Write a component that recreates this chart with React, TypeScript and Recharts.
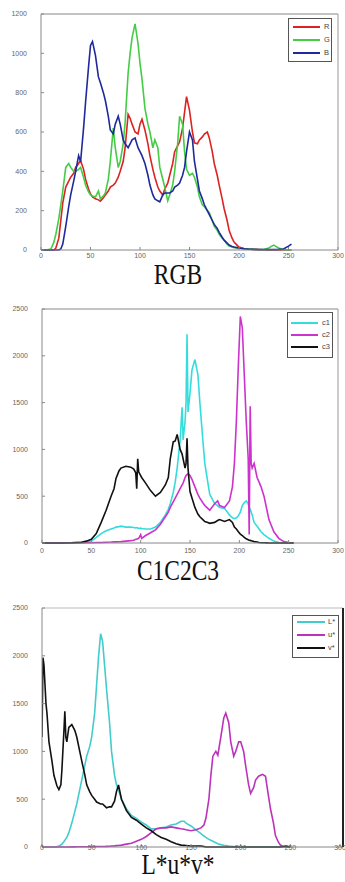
import React from 'react';
import { LineChart, Line, XAxis, YAxis, Legend } from 'recharts';

// ---------- Chart 1: RGB ----------
const RGB_X = [0,5,10,13,15,18,20,22,25,28,30,33,35,38,40,43,45,48,50,52,55,58,60,63,65,68,70,73,75,78,80,83,85,88,90,92,95,98,100,102,105,108,110,113,115,118,120,123,125,128,130,133,135,138,140,143,145,147,150,153,155,158,160,163,165,168,170,173,175,178,180,183,185,188,190,193,195,198,200,205,210,215,220,225,230,235,240,245,250,253];
const R_VALS = [0,0,0,0,10,60,150,240,320,350,
 370,390,420,440,455,410,360,310,285,270,
 260,255,248,265,280,300,320,330,340,370,
 400,450,520,690,670,640,600,590,640,665,
 610,540,480,410,370,320,300,280,310,340,
 380,440,500,530,550,620,700,780,710,600,
 545,540,560,575,590,600,570,500,440,380,
 330,260,210,150,100,60,40,25,15,8,
 5,3,2,1,0,0,0,0,0,0];
const G_VALS = [0,0,5,40,80,160,230,300,420,440,
 420,400,400,410,420,370,330,295,280,275,
 270,300,260,275,290,360,450,620,520,420,
 450,540,650,900,1000,1080,1150,1050,950,870,
 720,640,600,520,560,520,420,360,320,250,
 280,330,400,540,680,640,500,410,380,390,
 370,320,270,230,220,200,190,150,120,100,
 80,60,50,30,20,15,12,10,10,6,
 5,3,2,2,10,25,10,2,0,0];
const B_VALS = [0,0,0,0,0,0,5,30,120,220,
 280,350,400,480,450,620,750,930,1040,1060,
 990,880,850,800,760,680,610,590,640,680,
 640,560,540,520,540,560,570,520,500,480,
 440,380,330,280,260,250,245,280,290,290,
 290,300,320,330,340,380,420,500,600,560,
 450,360,300,260,230,200,180,150,130,110,
 90,65,50,35,25,18,15,12,10,6,
 4,3,2,2,2,2,3,5,20,30];
const RGB_NAMES = ['R', 'G', 'B'];
const RGB_Y_TICKS = [0, 200, 400, 600, 800, 1000, 1200];

// ---------- Chart 2: C1C2C3 ----------
const C_X = [0,10,20,30,40,45,50,55,60,65,
 70,73,75,78,80,85,90,93,95,96,
 97,98,100,101,105,110,115,120,125,128,
 130,133,135,137,140,142,143,145,146,147,
 148,150,152,155,158,160,163,165,168,170,
 175,178,180,185,190,193,195,197,199,201,
 203,205,207,209,210,211,212,213,215,218,
 220,222,225,228,230,235,240,245,250,255];
const C1_VALS = [0,0,0,2,8,12,20,60,100,130,
 150,160,170,175,180,170,170,165,160,165,
 160,155,160,155,150,150,170,220,300,360,
 420,540,650,800,1100,1450,1100,1300,1500,2230,
 1400,1600,1850,1960,1800,1500,1100,850,650,520,
 420,400,380,370,300,270,260,270,290,330,
 400,430,450,420,380,360,330,300,220,180,
 150,120,90,65,50,20,5,0,0,0];
const C2_VALS = [0,0,0,0,0,2,3,5,5,8,
 10,12,12,14,15,20,25,30,40,40,
 45,50,90,50,80,110,140,200,280,330,
 380,440,480,520,580,620,640,700,720,730,
 740,720,680,600,520,480,430,400,370,350,
 420,450,400,380,450,600,850,1300,1900,2420,
 2300,1800,1300,900,90,1460,850,800,850,700,
 650,600,500,350,250,120,50,15,5,0];
const C3_VALS = [0,0,0,2,8,20,40,100,220,350,
 500,580,690,770,800,820,810,790,750,580,
 900,760,720,700,640,560,500,540,620,700,
 900,1080,1090,1160,1000,950,900,800,850,1120,
 800,550,480,380,310,280,250,230,220,210,
 220,240,250,230,250,220,170,150,120,95,
 80,60,45,35,30,28,25,22,15,10,
 5,3,2,1,0,0,0,0,0,0];
const C_NAMES = ['c1', 'c2', 'c3'];
const C_Y_TICKS = [0, 500, 1000, 1500, 2000, 2500];

// ---------- Chart 3: L*u*v* ----------
const L_X = [0,1,2,3,4,5,7,10,12,15,
 17,19,20,22,23,24,25,27,30,33,
 35,38,40,43,45,48,50,53,55,57,
 59,61,63,65,68,70,73,75,77,80,
 85,90,95,100,105,110,115,120,125,130,
 135,140,143,145,150,155,160,163,165,168,
 170,172,175,177,180,183,185,188,190,193,
 195,198,200,203,205,208,210,213,215,218,
 220,222,225,227,230,233,235,238,240,243,
 245,250];
const LSTAR_VALS = [0,0,0,0,0,0,0,0,0,5,
 10,20,30,55,70,85,100,150,250,370,
 450,600,700,850,950,1050,1150,1400,1700,2000,
 2230,2150,1900,1650,1300,1000,750,650,600,500,
 400,330,300,260,230,190,190,200,210,230,
 240,270,270,250,220,180,140,115,100,80,
 70,60,45,35,25,18,15,10,8,5,
 3,2,0,0,0,0,0,0,0,0,
 0,0,0,0,0,0,0,0,0,0,
 0,0];
const USTAR_VALS = [0,0,0,0,0,0,0,0,0,0,
 0,0,0,0,0,0,0,0,1,1,
 2,2,2,3,3,3,3,4,5,5,
 5,6,6,7,8,10,12,14,16,20,
 30,40,60,80,110,150,190,200,200,210,
 200,190,185,180,170,180,200,230,300,500,
 750,950,1000,960,1150,1350,1400,1300,1100,950,
 1000,1100,1100,1000,850,650,560,620,700,740,
 750,760,740,600,400,250,120,50,20,5,
 0,0];
const VSTAR_VALS = [1150,1980,1900,1700,1500,1400,1100,900,750,640,
 600,650,800,1200,1420,1150,1100,1250,1280,1220,
 1150,1000,900,760,650,580,540,500,470,460,
 450,450,430,410,420,420,480,580,650,500,
 380,310,280,240,200,170,130,100,80,55,
 35,20,17,15,10,10,10,5,0,0,
 0,0,0,0,0,0,0,0,0,0,
 0,0,0,0,0,0,0,0,0,0,
 0,0,0,0,0,0,0,0,0,5,
 10,0];
const L_NAMES = ['L*', 'u*', 'v*'];
const L_Y_TICKS = [0, 500, 1000, 1500, 2000, 2500];

const X_TICKS = [0, 50, 100, 150, 200, 250, 300];
const TITLES = ['RGB', 'C1C2C3', 'L*u*v*'];

const buildRows = (xs: number[], series: number[][]) =>
  xs.map((x, i) => {
    const row: any = { x };
    series.forEach((s, k) => { row['s' + k] = s[i]; });
    return row;
  });

const makeLegend = (box: any, names: string[]) => (props: any) => {
  const payload = [...(props.payload || [])].sort(
    (a: any, b: any) => names.indexOf(a.value) - names.indexOf(b.value));
  return (
    <div style={{ position: 'relative', width: box.w, height: box.h, border: '1px solid #555', background: '#fff', boxSizing: 'border-box' }}>
      {payload.map((p: any, i: number) => (
        <React.Fragment key={i}>
          <div style={{ position: 'absolute', left: box.lx0 - 1, top: Math.round(box.rows[i] - 2), width: box.lx1 - box.lx0, height: 2, background: p.color }} />
          <div style={{ position: 'absolute', left: box.tx - 1, top: Math.round(box.rows[i] - 6), fontSize: 7.5, lineHeight: '10px', color: '#444', fontFamily: 'Liberation Sans, Arial, sans-serif' }}>{p.value}</div>
        </React.Fragment>
      ))}
    </div>
  );
};

const tickStyle = { fontSize: 7, fill: '#666', fontFamily: 'Liberation Sans, Arial, sans-serif' };

type Cfg = {
  top: number; height: number; margin: any; yWidth: number; xHeight: number;
  xDomain: number[]; yTicks: number[]; xTickMargin: number;
  rows: any[]; names: string[]; colors: string[];
  legend: any; topAxisColor: string; rightAxisColor: string; rightAxisWidth: number;
};

const CHARTS: Cfg[] = [
  {
    top: 0, height: 265, margin: { top: 13, right: 6, left: 0, bottom: 0 }, yWidth: 41, xHeight: 15,
    xDomain: [0, 300], yTicks: RGB_Y_TICKS, xTickMargin: 6,
    rows: buildRows(RGB_X, [R_VALS, G_VALS, B_VALS]), names: RGB_NAMES,
    colors: ['#dd2222', '#44cc44', '#1f2a9a'],
    legend: { left: 288, top: 18, w: 44, h: 44, rows: [9.3, 22, 34.7], lx0: 5, lx1: 32, tx: 36 },
    topAxisColor: '#888', rightAxisColor: '#999', rightAxisWidth: 1,
  },
  {
    top: 290, height: 265, margin: { top: 18, right: 6, left: 0, bottom: 0 }, yWidth: 42, xHeight: 12,
    xDomain: [0, 300], yTicks: C_Y_TICKS, xTickMargin: 8,
    rows: buildRows(C_X, [C1_VALS, C2_VALS, C3_VALS]), names: C_NAMES,
    colors: ['#33dddd', '#cc33cc', '#111111'],
    legend: { left: 287, top: 22, w: 46, h: 46, rows: [11.3, 23, 34.7], lx0: 4, lx1: 31, tx: 35 },
    topAxisColor: '#888', rightAxisColor: '#999', rightAxisWidth: 1,
  },
  {
    top: 590, height: 265, margin: { top: 17, right: 1, left: 0, bottom: 0 }, yWidth: 42, xHeight: 8,
    xDomain: [0, 303], yTicks: L_Y_TICKS, xTickMargin: 1,
    rows: buildRows(L_X, [LSTAR_VALS, USTAR_VALS, VSTAR_VALS]), names: L_NAMES,
    colors: ['#44cccc', '#bb33bb', '#111111'],
    legend: { left: 292, top: 25, w: 47, h: 43, rows: [6.7, 20, 33.3], lx0: 5, lx1: 33, tx: 36 },
    topAxisColor: '#bbb', rightAxisColor: '#222', rightAxisWidth: 2,
  },
];

const TITLE_BASELINES = [283.3, 579.5, 873.8];

export default function App() {
  return (
    <div style={{ position: 'absolute', left: 0, top: 0, width: 345, height: 882, background: '#fff', overflow: 'hidden' }}>
      {CHARTS.map((c, ci) => {
        const yMax = c.yTicks[c.yTicks.length - 1];
        return (
          <div key={ci} style={{ position: 'absolute', left: 0, top: c.top }}>
            <LineChart width={345} height={c.height} data={c.rows} margin={c.margin}>
              <XAxis xAxisId="b" dataKey="x" type="number" domain={c.xDomain} ticks={X_TICKS} interval={0}
                allowDataOverflow height={c.xHeight} tick={tickStyle} tickSize={-3} tickMargin={c.xTickMargin}
                axisLine={{ stroke: '#888' }} tickLine={{ stroke: '#888' }} />
              <XAxis xAxisId="t" orientation="top" type="number" domain={c.xDomain} ticks={X_TICKS} interval={0}
                allowDataOverflow height={1} tick={false} tickSize={-3}
                axisLine={{ stroke: c.topAxisColor }} tickLine={{ stroke: '#888' }} />
              <YAxis yAxisId="l" type="number" domain={[0, yMax]} ticks={c.yTicks} interval={0}
                width={c.yWidth} tick={tickStyle} tickSize={-3} tickMargin={17}
                axisLine={{ stroke: '#888' }} tickLine={{ stroke: '#888' }} />
              <YAxis yAxisId="r" orientation="right" type="number" domain={[0, yMax]} ticks={c.yTicks} interval={0}
                width={1} tick={false} tickSize={-3}
                axisLine={{ stroke: c.rightAxisColor, strokeWidth: c.rightAxisWidth }} tickLine={{ stroke: '#888' }} />
              {c.names.map((n, k) => (
                <Line key={n} xAxisId="b" yAxisId="l" type="linear" dataKey={'s' + k} name={n}
                  stroke={c.colors[k]} strokeWidth={1.6} dot={false} isAnimationActive={false} />
              ))}
              <Legend layout="vertical" align="center" verticalAlign="middle"
                wrapperStyle={{ left: c.legend.left, top: c.legend.top, width: c.legend.w, height: c.legend.h }}
                content={makeLegend(c.legend, c.names)} />
            </LineChart>
          </div>
        );
      })}
      {TITLES.map((t, i) => (
        <div key={t} style={{
          position: 'absolute', left: 78, width: 200, top: TITLE_BASELINES[i] - 18.8,
          textAlign: 'center', fontFamily: '"Liberation Serif", "Times New Roman", serif',
          fontSize: 29, lineHeight: '18px', color: '#111', transform: 'scaleX(0.81)', transformOrigin: 'center',
        }}>{t}</div>
      ))}
    </div>
  );
}
